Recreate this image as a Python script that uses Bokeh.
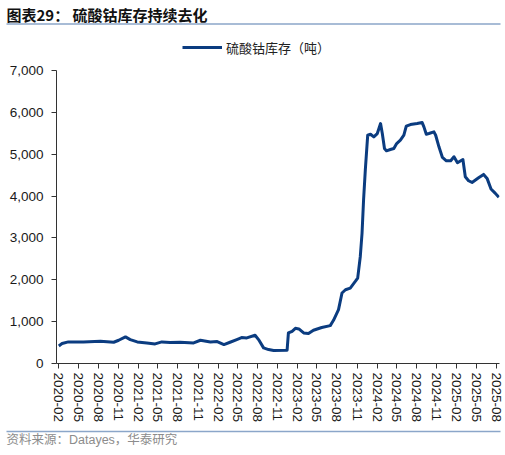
import datetime as dt

import pandas as pd
from bokeh.core.properties import value
from bokeh.embed import file_html
from bokeh.layouts import column
from bokeh.models import (
    AllLabels,
    ColumnDataSource,
    DatetimeTickFormatter,
    FixedTicker,
    Legend,
    LegendItem,
    NumeralTickFormatter,
    Range1d,
    SingleIntervalTicker,
)
from bokeh.plotting import figure
from bokeh.resources import INLINE

TITLE = "图表29：  硫酸钴库存持续去化"
SERIES_NAME = "硫酸钴库存（吨）"
SOURCE_NOTE = "资料来源：Datayes，华泰研究"

# 硫酸钴库存 (吨)
dates = [
    "2020-02-01", "2020-02-16", "2020-03-16", "2020-05-24", "2020-08-10",
    "2020-10-10", "2020-11-02", "2020-12-03", "2020-12-25", "2021-01-26",
    "2021-03-11", "2021-04-18", "2021-05-19", "2021-06-26", "2021-08-11",
    "2021-10-12", "2021-11-12", "2021-12-28", "2022-01-28", "2022-02-28",
    "2022-03-28", "2022-04-28", "2022-05-20", "2022-06-13", "2022-07-21",
    "2022-08-06", "2022-08-29", "2022-09-21", "2022-10-14", "2022-12-15",
    "2022-12-21", "2023-01-07", "2023-01-22", "2023-02-07", "2023-03-01",
    "2023-03-23", "2023-04-15", "2023-05-23", "2023-07-01", "2023-07-16",
    "2023-08-08", "2023-08-24", "2023-09-09", "2023-10-01", "2023-10-24",
    "2023-11-04", "2023-11-16", "2023-11-24", "2023-12-01", "2023-12-09",
    "2023-12-20", "2024-01-02", "2024-01-17", "2024-02-02", "2024-02-17",
    "2024-02-25", "2024-03-06", "2024-03-15", "2024-04-02", "2024-04-18",
    "2024-05-01", "2024-05-18", "2024-06-03", "2024-06-14", "2024-07-03",
    "2024-08-03", "2024-08-26", "2024-09-03", "2024-09-14", "2024-09-26",
    "2024-10-19", "2024-10-27", "2024-11-11", "2024-11-27", "2024-12-15",
    "2025-01-04", "2025-01-19", "2025-02-04", "2025-03-01", "2025-03-12",
    "2025-03-27", "2025-04-12", "2025-05-12", "2025-06-04", "2025-06-20",
    "2025-07-08", "2025-07-28", "2025-08-13",
]
stock = [
    420, 476, 516, 516, 532,
    508, 555, 635, 571, 516,
    492, 468, 516, 500, 508,
    492, 555, 516, 524, 452,
    507, 571, 619, 611, 675,
    571, 373, 333, 309, 317,
    730, 770, 840, 825, 730,
    714, 794, 860, 905, 1032,
    1286, 1683, 1762, 1802, 1960,
    2040, 2556, 3111, 3905, 4619,
    5452, 5476, 5413, 5492, 5730,
    5492, 5135, 5079, 5111, 5135,
    5254, 5333, 5452, 5667, 5706,
    5730, 5754, 5651, 5476, 5492,
    5532, 5452, 5175, 4921, 4841,
    4841, 4937, 4794, 4873, 4460,
    4365, 4325, 4436, 4516, 4421,
    4167, 4063, 3968,
]

# quarterly tick months, 2020-02 .. 2025-08
tick_months = pd.date_range("2020-02-01", "2025-08-01", freq="3MS")

NAVY = "#0b3c80"
RULE = "#8ba6c9"
W = 505
CJK = "Noto Sans CJK SC"
LATIN = "Liberation Sans"


def blank(height):
    f = figure(width=W, height=height, x_range=Range1d(0, W), y_range=Range1d(height, 0),
               toolbar_location=None, output_backend="svg", min_border=0,
               frame_align=False)
    f.axis.visible = False
    f.grid.visible = False
    f.outline_line_color = None
    return f


# ---- header: title and rule
hdr = blank(30)
hdr.text(x=[6], y=[14], text=[TITLE], text_font=value(CJK), text_font_style="bold",
         text_font_size="15px", text_baseline="middle", text_color="#111111")
hdr.segment(x0=[6], y0=[23.5], x1=[500], y1=[23.5], line_color=RULE, line_width=1.5)

# ---- main chart; the frame reaches above 7,000 to hold the legend
src = ColumnDataSource(data=dict(date=pd.to_datetime(dates), stock=stock))

p = figure(
    width=W, height=395, x_axis_type="datetime",
    x_range=Range1d(dt.datetime(2020, 1, 21, 10), dt.datetime(2025, 8, 16)),
    y_range=Range1d(0, 7762),
    toolbar_location=None, output_backend="svg", frame_align=False,
    min_border_left=56, min_border_right=6, min_border_top=8, min_border_bottom=61,
)
p.outline_line_color = None
p.grid.visible = False

r = p.line("date", "stock", source=src, line_color=NAVY, line_width=3, line_join="round")

p.yaxis.ticker = SingleIntervalTicker(interval=1000)
p.yaxis.formatter = NumeralTickFormatter(format="0,0")
p.yaxis.bounds = (0, 7000)
p.xaxis.ticker = FixedTicker(ticks=[t.value / 1e6 for t in tick_months])
p.xaxis.formatter = DatetimeTickFormatter(
    years="%Y-%m", months="%Y-%m", days="%Y-%m", hours="%Y-%m"
)
p.xaxis.major_label_orientation = "vertical"

for ax in (p.xaxis[0], p.yaxis[0]):
    ax.axis_line_color = "#333333"
    ax.major_tick_line_color = "#333333"
    ax.major_tick_out = 5
    ax.major_tick_in = 0
    ax.minor_tick_line_color = None
    ax.major_label_policy = AllLabels()
    ax.major_label_text_font = LATIN
    ax.major_label_text_font_size = "13.5px"
    ax.major_label_text_color = "#1a1a1a"
p.yaxis.major_label_standoff = 8
p.xaxis.major_label_standoff = 4

legend = Legend(
    items=[LegendItem(label=SERIES_NAME, renderers=[r])],
    location=(126, 306),
    border_line_color=None, background_fill_alpha=0,
    padding=0, margin=0, glyph_width=40, glyph_height=20, label_height=20,
    label_standoff=4, label_text_font=CJK, label_text_font_size="13px",
    label_text_color="#222222",
)
p.add_layout(legend)

# ---- footer: rule and source note
ftr = blank(30)
ftr.segment(x0=[6], y0=[6], x1=[500], y1=[6], line_color=RULE, line_width=1.5)
ftr.text(x=[6], y=[14.5], text=[SOURCE_NOTE], text_font=value(LATIN + ", " + CJK),
         text_font_size="12.5px", text_baseline="middle", text_color="#8c8c8c")

layout = column(hdr, p, ftr, spacing=0)
open("out.html", "w").write(file_html(layout, INLINE))
